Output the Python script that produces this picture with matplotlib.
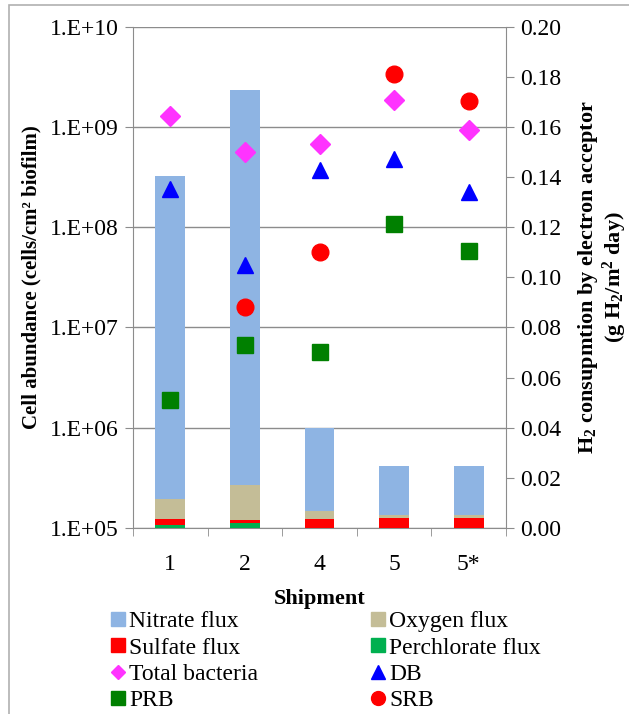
import matplotlib.pyplot as plt
from matplotlib.patches import Rectangle
from matplotlib.lines import Line2D
import numpy as np

plt.rcParams['font.family'] = ['Liberation Serif', 'DejaVu Serif']
plt.rcParams['mathtext.fontset'] = 'custom'
plt.rcParams['mathtext.rm'] = 'Liberation Serif:bold'
plt.rcParams['mathtext.it'] = 'Liberation Serif:bold'
plt.rcParams['mathtext.bf'] = 'Liberation Serif:bold'

shipments = ['1', '2', '4', '5', '5*']

# H2 consumption by electron acceptor (g H2/m2 day), right axis
perchlorate_flux = [0.0010, 0.0019, 0.0, 0.0, 0.0]
sulfate_flux = [0.0025, 0.0012, 0.0036, 0.0040, 0.0040]
oxygen_flux = [0.0080, 0.0140, 0.0031, 0.0013, 0.0013]
nitrate_flux = [0.1290, 0.1577, 0.0333, 0.0196, 0.0196]

# cell abundance (cells/cm2 biofilm), left axis
total_bacteria = [1.30e9, 5.6e8, 6.7e8, 1.86e9, 9.3e8]
db = [2.4e8, 4.2e7, 3.7e8, 4.8e8, 2.26e8]
prb = [1.9e6, 6.7e6, 5.75e6, 1.08e8, 5.8e7]
srb = [np.nan, 1.6e7, 5.6e7, 3.4e9, 1.82e9]

x = np.arange(len(shipments))
gray = '#8c8c8c'

fig = plt.figure(figsize=(6.29, 7.14), dpi=100)
fig.add_artist(Rectangle((9 / 629, -0.01), 1.0, 1 - 5 / 714 + 0.01,
                         transform=fig.transFigure, fill=False,
                         edgecolor='#b0b0b0', linewidth=1.2))

ax = fig.add_axes([0.2114, 0.2605, 0.5931, 0.7021])
ax.set_yscale('log')
ax.set_ylim(1e5, 1e10)
ax.set_xlim(-0.5, len(shipments) - 0.5)
ax.set_yticks([1e5, 1e6, 1e7, 1e8, 1e9, 1e10])
ax.set_yticklabels(['1.E+05', '1.E+06', '1.E+07', '1.E+08', '1.E+09', '1.E+10'])
ax.yaxis.set_minor_locator(plt.NullLocator())
ax.grid(axis='y', color=gray, linewidth=1.0)
ax.set_xticks(x)
ax.set_xticklabels(shipments)
ax.set_xticks(np.arange(len(shipments) + 1) - 0.5, minor=True)
ax.tick_params(axis='x', which='major', length=0, pad=19, labelsize=17)
ax.tick_params(axis='x', which='minor', length=6, color=gray, direction='out')
ax.tick_params(axis='y', length=6, color=gray, labelsize=17, pad=4)
ax.set_xlabel('Shipment', fontsize=16, fontweight='bold', labelpad=10)
ax.set_ylabel('Cell abundance (cells/cm² biofilm)', fontsize=15,
              fontweight='bold', labelpad=6)
ax.spines['top'].set_visible(False)
for s in ['left', 'right', 'bottom']:
    ax.spines[s].set_color(gray)

# bars on right axis
ax2 = ax.twinx()
ax2.set_ylim(0, 0.20)
ax2.set_yticks(np.arange(0, 0.201, 0.02))
ax2.set_yticklabels(['%.2f' % v for v in np.arange(0, 0.201, 0.02)])
ax2.tick_params(axis='y', length=6, color=gray, labelsize=17, pad=4)
for s in ax2.spines.values():
    s.set_visible(False)
w = 0.4
bottom = np.zeros(len(x))
for vals, col, lab in [(perchlorate_flux, '#00b050', 'Perchlorate flux'),
                       (sulfate_flux, '#ff0000', 'Sulfate flux'),
                       (oxygen_flux, '#c4bd97', 'Oxygen flux'),
                       (nitrate_flux, '#8eb4e3', 'Nitrate flux')]:
    ax2.bar(x, vals, w, bottom=bottom, color=col, label=lab)
    bottom += np.array(vals)
ax2.set_ylabel('H$_2$ consupmtion by electron acceptor\n(g H$_2$/m$^2$ day)',
               fontsize=16, fontweight='bold', labelpad=11, linespacing=1.0)

# markers on a third axes sharing the log scale
ax3 = ax.twinx()
ax3.set_yscale('log')
ax3.set_ylim(1e5, 1e10)
ax3.axis('off')
ax3.plot(x, total_bacteria, 'D', color='#ff33ff', markersize=10, label='Total bacteria')
ax3.plot(x, db, '^', color='#0000ff', markersize=12, label='DB')
ax3.plot(x, prb, 's', color='#008000', markersize=11, label='PRB')
ax3.plot(x, srb, 'o', color='#ff0000', markersize=12, label='SRB')


def sq(c):
    return Line2D([], [], marker='s', color=c, linestyle='none', markersize=9.5)


def mk(m, c, s):
    return Line2D([], [], marker=m, color=c, linestyle='none', markersize=s)


handles = [sq('#8eb4e3'), sq('#ff0000'), mk('D', '#ff33ff', 7), sq('#008000'),
           sq('#c4bd97'), sq('#00b050'), mk('^', '#0000ff', 10), mk('o', '#ff0000', 10)]
labels = ['Nitrate flux', 'Sulfate flux', 'Total bacteria', 'PRB',
          'Oxygen flux', 'Perchlorate flux', 'DB', 'SRB']
fig.legend(handles, labels, ncol=2, loc='upper left',
           bbox_to_anchor=(0.155, 0.161), frameon=False, fontsize=17,
           handlelength=0.7, handletextpad=0.15, columnspacing=4.7,
           labelspacing=0.2, borderpad=0)

fig.savefig('out.png', dpi=100)
